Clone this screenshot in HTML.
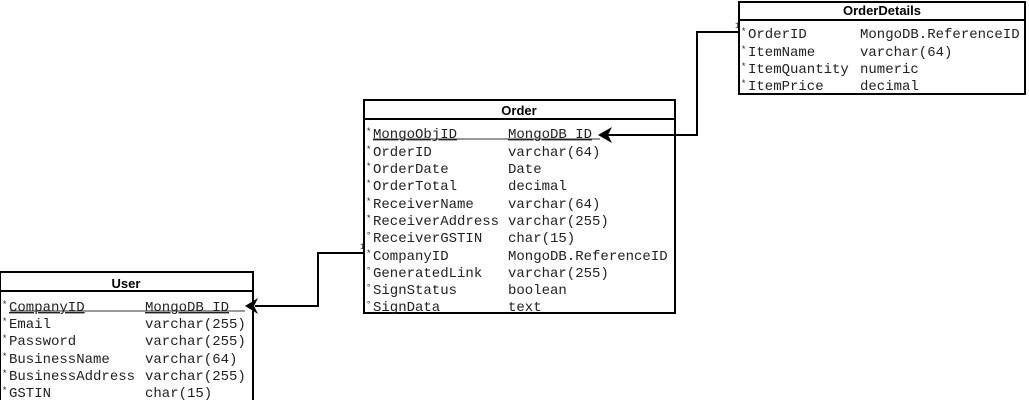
<!DOCTYPE html>
<html><head><meta charset="utf-8"><style>
html,body{margin:0;padding:0;background:#fff;}
text{font-family:"Liberation Mono",monospace;font-size:14px;fill:#222;}
.h{font-family:"Liberation Sans",sans-serif;font-weight:bold;font-size:13px;fill:#000;}
.s{font-size:8px;}
.m{font-size:9px;}
</style></head><body>
<svg width="1029" height="400" xmlns="http://www.w3.org/2000/svg">
<g fill="none" stroke="#000" stroke-width="2">
<rect x="364" y="100" width="311" height="213"/>
<line x1="364" y1="119" x2="675" y2="119"/>
<rect x="0" y="272" width="253" height="130"/>
<line x1="0" y1="291" x2="253" y2="291"/>
<rect x="739" y="2" width="286" height="92"/>
<line x1="739" y1="20" x2="1025" y2="20"/>
<polyline points="364,253 318,253 318,306 255,306"/>
<polyline points="739,32 697,32 697,135 605,135"/>
</g>
<polygon points="245,306 258,298 254,306 258,314" fill="#000"/>
<polygon points="598,135 612,127 608,135 612,143" fill="#000"/>
<line x1="373" y1="139" x2="600" y2="139" stroke="#333" stroke-width="1"/>
<line x1="10" y1="311" x2="245" y2="311" stroke="#333" stroke-width="1"/>
<text class="h" x="519" y="115" text-anchor="middle">Order</text>
<text class="h" x="126" y="288" text-anchor="middle">User</text>
<text class="h" x="882" y="15" text-anchor="middle">OrderDetails</text>
<text class="s" x="360" y="249">1</text>
<text class="s" x="735" y="28">1</text>
<g class="m">
<text class="m" x="366" y="134">*</text><text class="m" x="366" y="152">*</text><text class="m" x="366" y="169">*</text><text class="m" x="366" y="186">*</text><text class="m" x="366" y="204">*</text><text class="m" x="366" y="221">*</text><text class="m" x="366" y="238">°</text><text class="m" x="366" y="256">*</text><text class="m" x="366" y="273">°</text><text class="m" x="366" y="290">°</text><text class="m" x="366" y="307">°</text>
<text class="m" x="2" y="307">*</text><text class="m" x="2" y="324">*</text><text class="m" x="2" y="341">*</text><text class="m" x="2" y="359">*</text><text class="m" x="2" y="376">*</text><text class="m" x="2" y="393">*</text>
<text class="m" x="741" y="34">*</text><text class="m" x="741" y="52">*</text><text class="m" x="741" y="69">*</text><text class="m" x="741" y="86">*</text>
</g>
<g>
<text x="373" y="138" text-decoration="underline">MongoObjID</text><text x="508" y="138" text-decoration="underline">MongoDB_ID</text>
<text x="373" y="156">OrderID</text><text x="508" y="156">varchar(64)</text>
<text x="373" y="173">OrderDate</text><text x="508" y="173">Date</text>
<text x="373" y="190">OrderTotal</text><text x="508" y="190">decimal</text>
<text x="373" y="208">ReceiverName</text><text x="508" y="208">varchar(64)</text>
<text x="373" y="225">ReceiverAddress</text><text x="508" y="225">varchar(255)</text>
<text x="373" y="242">ReceiverGSTIN</text><text x="508" y="242">char(15)</text>
<text x="373" y="260">CompanyID</text><text x="508" y="260">MongoDB.ReferenceID</text>
<text x="373" y="277">GeneratedLink</text><text x="508" y="277">varchar(255)</text>
<text x="373" y="294">SignStatus</text><text x="508" y="294">boolean</text>
<text x="373" y="311">SignData</text><text x="508" y="311">text</text>
</g>
<g>
<text x="9" y="311" text-decoration="underline">CompanyID</text><text x="145" y="311" text-decoration="underline">MongoDB_ID</text>
<text x="9" y="328">Email</text><text x="145" y="328">varchar(255)</text>
<text x="9" y="345">Password</text><text x="145" y="345">varchar(255)</text>
<text x="9" y="363">BusinessName</text><text x="145" y="363">varchar(64)</text>
<text x="9" y="380">BusinessAddress</text><text x="145" y="380">varchar(255)</text>
<text x="9" y="397">GSTIN</text><text x="145" y="397">char(15)</text>
</g>
<g>
<text x="748" y="38">OrderID</text><text x="860" y="38">MongoDB.ReferenceID</text>
<text x="748" y="56">ItemName</text><text x="860" y="56">varchar(64)</text>
<text x="748" y="73">ItemQuantity</text><text x="860" y="73">numeric</text>
<text x="748" y="90">ItemPrice</text><text x="860" y="90">decimal</text>
</g>
</svg>
</body></html>
